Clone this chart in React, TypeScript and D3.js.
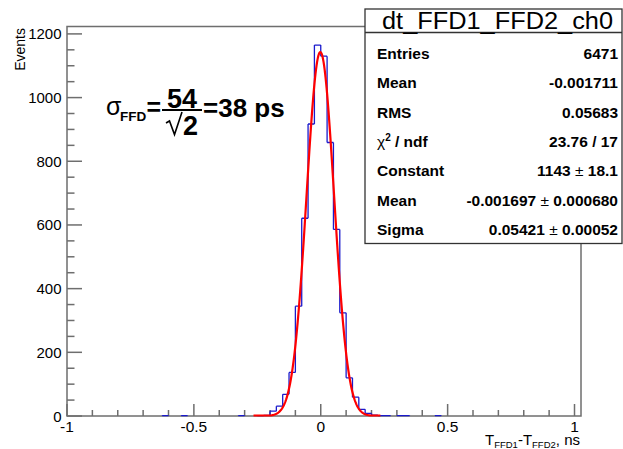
import React from "react";
import * as d3 from "d3";

const W = 623;
const H = 449;

// Histogram (bin width 0.025 ns), lower edges of the non-empty bins and their counts
const binWidth = 0.025;
const binLow = [-0.625, -0.55, -0.325, -0.25, -0.225, -0.2, -0.175, -0.15, -0.125, -0.1, -0.075, -0.05, -0.025, 0, 0.025, 0.05, 0.075, 0.1, 0.125, 0.15, 0.175, 0.2, 0.225, 0.25, 0.3, 0.325, 0.45];
const counts = [1, 1, 1, 1, 2, 15, 31, 68, 137, 345, 621, 917, 1165, 1130, 859, 586, 324, 120, 59, 21, 8, 3, 1, 1, 1, 1, 1];

// Axis ranges and ticks
const xDomain = [-1, 1.0256];
const yDomain = [0, 1223.25];
const xMajor = [-1, -0.5, 0, 0.5, 1];
const xMajorLabels = ["-1", "-0.5", "0", "0.5", "1"];
const xMinor = [-0.9, -0.8, -0.7, -0.6, -0.4, -0.3, -0.2, -0.1, 0.1, 0.2, 0.3, 0.4, 0.6, 0.7, 0.8, 0.9];
const yMajor = [0, 200, 400, 600, 800, 1000, 1200];
const yMinor = [50, 100, 150, 250, 300, 350, 450, 500, 550, 650, 700, 750, 850, 900, 950, 1050, 1100, 1150];

// Gaussian fit parameters
const fitConstant = 1143;
const fitMean = -0.001697;
const fitSigma = 0.05421;
const fitRange = [-0.265, 0.235];

// Stats box
const statTitle = "dt_FFD1_FFD2_ch0";
const statLabels = ["Entries", "Mean", "RMS", "chi2", "Constant", "Mean", "Sigma"];
const statValues = ["6471", "-0.001711", "0.05683", "23.76 / 17", "1143 \u00b1 18.1", "-0.001697 \u00b1 0.000680", "0.05421 \u00b1 0.00052"];

const FONT = "'Liberation Sans', Arial, Helvetica, sans-serif";

export default function App() {
  const left = 67, right = 581, top = 26.5, bottom = 416;
  const x = d3.scaleLinear().domain(xDomain).range([left, right]);
  const y = d3.scaleLinear().domain(yDomain).range([bottom, top]);

  // full bin array
  const nb = Math.round((xDomain[1] - xDomain[0]) / binWidth);
  const full: number[] = new Array(nb).fill(0);
  binLow.forEach((lo, i) => {
    const k = Math.round((lo - xDomain[0]) / binWidth);
    full[k] = counts[i];
  });
  const p = d3.path();
  for (let k = 0; k <= nb; k++) {
    const prev = k > 0 ? full[k - 1] : 0;
    const cur = k < nb ? full[k] : 0;
    const ex = x(xDomain[0] + k * binWidth);
    if (prev > 0 || cur > 0) {
      p.moveTo(ex, y(prev));
      p.lineTo(ex, y(cur));
    }
    if (cur > 0) {
      const ex2 = x(xDomain[0] + (k + 1) * binWidth);
      p.moveTo(ex, y(cur));
      p.lineTo(ex2, y(cur));
    }
  }

  const gaus = (v: number) => fitConstant * Math.exp(-0.5 * ((v - fitMean) / fitSigma) ** 2);
  const pts = d3.range(fitRange[0], fitRange[1] + 1e-9, 0.002).map((v) => [v, gaus(v)] as [number, number]);
  const line = d3.line<[number, number]>().x((d) => x(d[0])).y((d) => Math.min(y(d[1]), bottom - 0.5))(pts) || "";

  const axisColor = "#6e6e6e";
  const boxL = 365, boxR = 622, boxT = 9, boxB = 243.5, sepY = 32.5;
  const rowY = [58.5, 88, 117.5, 146.5, 176, 205.5, 234.5];

  return (
    <svg width={W} height={H} style={{ display: "block", position: "absolute", left: 0, top: 0 }} fontFamily={FONT}>
      <rect x={0} y={0} width={W} height={H} fill="#fff" />
      {/* frame */}
      <rect x={left} y={top} width={right - left} height={bottom - top} fill="none" stroke={axisColor} strokeWidth={1.5} />
      {/* y ticks */}
      {yMajor.map((v) => (
        <line key={"ym" + v} x1={left} x2={left + 15} y1={y(v)} y2={y(v)} stroke={axisColor} strokeWidth={1.5} />
      ))}
      {yMinor.map((v) => (
        <line key={"yn" + v} x1={left} x2={left + 7.5} y1={y(v)} y2={y(v)} stroke={axisColor} strokeWidth={1.5} />
      ))}
      {yMajor.map((v) => (
        <text key={"yl" + v} x={61.5} y={y(v) + 5.5} fontSize={15} textAnchor="end" fill="#000">
          {String(v)}
        </text>
      ))}
      {/* x ticks */}
      {xMajor.map((v) => (
        <line key={"xm" + v} x1={x(v)} x2={x(v)} y1={bottom} y2={bottom - 12} stroke={axisColor} strokeWidth={1.5} />
      ))}
      {xMinor.map((v) => (
        <line key={"xn" + v} x1={x(v)} x2={x(v)} y1={bottom} y2={bottom - 6} stroke={axisColor} strokeWidth={1.5} />
      ))}
      {xMajor.map((v, i) => (
        <text key={"xl" + v} x={x(v)} y={432} fontSize={15.5} textAnchor="middle" fill="#000">
          {xMajorLabels[i]}
        </text>
      ))}
      {/* histogram */}
      <path d={p.toString()} fill="none" stroke="#1a1acc" strokeWidth={1.3} />
      {/* fit */}
      <path d={line} fill="none" stroke="#ff0000" strokeWidth={2.2} strokeLinejoin="round" />

      {/* axis titles */}
      <text transform="translate(25,28) rotate(-90)" fontSize={14} textAnchor="end" fill="#000">Events</text>
      <text x={580} y={444.5} fontSize={15} textAnchor="end" fill="#000">
        T<tspan fontSize={9.5} dy={3.5}>FFD1</tspan>
        <tspan dy={-3.5}>-T</tspan>
        <tspan fontSize={9.5} dy={3.5}>FFD2</tspan>
        <tspan dy={-3.5}>, ns</tspan>
      </text>

      {/* formula */}
      <g fill="#000">
        <text x={106} y={115} fontSize={25}>{"\u03c3"}</text>
        <text x={120} y={120.5} fontSize={13.5} fontWeight="bold">FFD</text>
        <text x={146.5} y={116} fontSize={25} fontWeight="bold">=</text>
        <text x={182} y={107.5} fontSize={27} fontWeight="bold" textAnchor="middle">54</text>
        <line x1={162} x2={202} y1={110} y2={110} stroke="#000" strokeWidth={2.2} />
        <path d="M166,123 L169.5,121 L174.5,134.5 L182,112" fill="none" stroke="#000" strokeWidth={1.6} />
        <text x={183} y={135} fontSize={27} fontWeight="bold">2</text>
        <text x={203} y={117} fontSize={26} fontWeight="bold">=38 ps</text>
      </g>

      {/* stats box */}
      <rect x={boxL} y={boxT} width={boxR - boxL} height={boxB - boxT} fill="#fff" stroke="#333" strokeWidth={1.3} />
      <line x1={boxL} x2={boxR} y1={sepY} y2={sepY} stroke="#333" strokeWidth={1.3} />
      <text x={497.5} y={29} fontSize={23} textAnchor="middle" textLength={231} lengthAdjust="spacingAndGlyphs" fill="#000">
        {statTitle}
      </text>
      {statLabels.map((l, i) => (
        <text key={"sl" + i} x={377} y={rowY[i]} fontSize={15.5} fontWeight="bold" fill="#000">
          {l === "chi2" ? (
            <>
              <tspan fontWeight="normal" fontSize={15.5}>{"\u03c7"}</tspan>
              <tspan fontSize={10} dy={-6}>2</tspan>
              <tspan dy={6}>{" / ndf"}</tspan>
            </>
          ) : (
            l
          )}
        </text>
      ))}
      {statValues.map((v, i) => (
        <text key={"sv" + i} x={618} y={rowY[i]} fontSize={15.5} fontWeight="bold" textAnchor="end" fill="#000">
          {v.includes("\u00b1") ? (
            <>
              {v.split("\u00b1")[0]}
              <tspan fontWeight="normal">{"\u00b1"}</tspan>
              {v.split("\u00b1")[1]}
            </>
          ) : (
            v
          )}
        </text>
      ))}
    </svg>
  );
}
